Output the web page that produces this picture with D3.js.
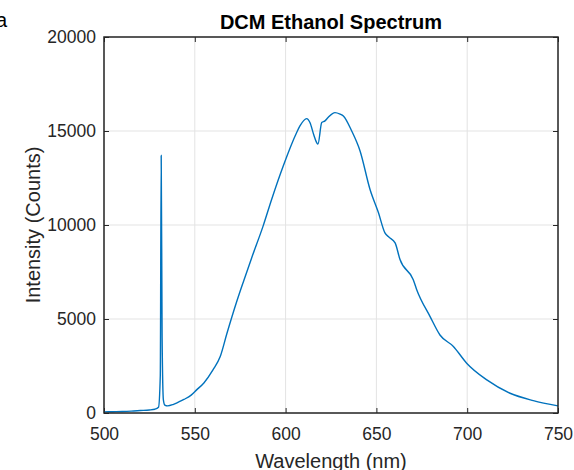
<!DOCTYPE html>
<html>
<head>
<meta charset="utf-8">
<script src="https://cdn.jsdelivr.net/npm/d3@7"></script>
<style>
  body { margin: 0; background: #fff; }
  svg { display: block; font-family: "Liberation Sans", Arial, sans-serif; }
</style>
</head>
<body>
<div id="chart"></div>
<script>
const width = 574;
const height = 470;
const marginTop = 37;
const marginRight = 16;
const marginBottom = 57;
const marginLeft = 104;

// spectrum: wavelength (nm) and intensity (counts)
const wavelength = [500, 505, 510, 515, 520, 525, 528, 530, 531, 531.5, 532, 532.7, 533.5, 535, 538, 541, 544, 548, 551, 555, 560, 564, 567.6, 573, 577, 581.3, 587.6, 592.3, 598.7, 606.1, 607.9, 611.6, 613.4, 615.5, 617.1, 617.8, 619.9, 621.7, 623.4, 627.2, 630, 631.8, 636.4, 641, 646.5, 651.1, 654.7, 657, 660.3, 663, 670.3, 672.2, 679.5, 685, 692.4, 699.7, 710.8, 723.6, 736.4, 750];
const intensity = [60, 70, 80, 100, 130, 160, 200, 300, 2000, 13700, 4000, 700, 420, 380, 450, 580, 720, 950, 1230, 1600, 2290, 3000, 4200, 5900, 7050, 8250, 9940, 11360, 13140, 14920, 15270, 15660, 15450, 14800, 14380, 14300, 15450, 15540, 15720, 15980, 15900, 15800, 15000, 13940, 11890, 10660, 9580, 9350, 9050, 8160, 7090, 6560, 5140, 4150, 3540, 2650, 1760, 1050, 660, 380];

const xTicks = [500, 550, 600, 650, 700, 750];
const yTicks = [0, 5000, 10000, 15000, 20000];

const data = wavelength.map((w, i) => ({w: w, v: intensity[i]}));

const x = d3.scaleLinear()
    .domain([500, 750])
    .range([marginLeft, width - marginRight]);
const y = d3.scaleLinear()
    .domain([0, 20000])
    .range([height - marginBottom, marginTop]);

const svg = d3.select("#chart")
  .append("svg")
    .attr("width", width)
    .attr("height", height);

const axisColor = "#262626";
const tickFont = 17.5;

// grid
svg.append("g")
    .attr("stroke", "#e3e3e3")
    .selectAll("line.gx")
    .data(xTicks)
    .join("line")
      .attr("x1", d => x(d)).attr("x2", d => x(d))
      .attr("y1", y(0)).attr("y2", y(20000));
svg.append("g")
    .attr("stroke", "#e3e3e3")
    .selectAll("line.gy")
    .data(yTicks)
    .join("line")
      .attr("x1", x(500)).attr("x2", x(750))
      .attr("y1", d => y(d)).attr("y2", d => y(d));

// x axis (bottom) and top ticks
svg.append("g")
    .attr("transform", `translate(0,${y(0)})`)
    .call(d3.axisBottom(x).tickValues(xTicks).tickSize(-5).tickPadding(15).tickFormat(d3.format("d")))
    .call(g => g.select(".domain").remove())
    .call(g => g.selectAll("line").attr("stroke", axisColor))
    .call(g => g.selectAll("text").attr("fill", axisColor).attr("font-size", tickFont));
svg.append("g")
    .attr("transform", `translate(0,${y(20000)})`)
    .call(d3.axisTop(x).tickValues(xTicks).tickSize(-5).tickFormat(""))
    .call(g => g.select(".domain").remove())
    .call(g => g.selectAll("line").attr("stroke", axisColor));

// y axis (left) and right ticks
svg.append("g")
    .attr("transform", `translate(${x(500)},0)`)
    .call(d3.axisLeft(y).tickValues(yTicks).tickSize(-5).tickPadding(8).tickFormat(d3.format("d")))
    .call(g => g.select(".domain").remove())
    .call(g => g.selectAll("line").attr("stroke", axisColor))
    .call(g => g.selectAll("text").attr("fill", axisColor).attr("font-size", tickFont));
svg.append("g")
    .attr("transform", `translate(${x(750)},0)`)
    .call(d3.axisRight(y).tickValues(yTicks).tickSize(-5).tickFormat(""))
    .call(g => g.select(".domain").remove())
    .call(g => g.selectAll("line").attr("stroke", axisColor));

// spectrum line
const line = d3.line()
    .x(d => x(d.w))
    .y(d => y(d.v))
    .curve(d3.curveMonotoneX);

svg.append("path")
    .datum(data)
    .attr("fill", "none")
    .attr("stroke", "#0072BD")
    .attr("stroke-width", 1.4)
    .attr("d", line);

// box
svg.append("rect")
    .attr("x", x(500)).attr("y", y(20000))
    .attr("width", x(750) - x(500))
    .attr("height", y(0) - y(20000))
    .attr("fill", "none")
    .attr("stroke", axisColor)
    .attr("stroke-width", 1.5);

// titles
svg.append("text")
    .attr("x", (x(500) + x(750)) / 2)
    .attr("y", 29)
    .attr("text-anchor", "middle")
    .attr("font-weight", "bold")
    .attr("font-size", 20)
    .attr("fill", "#000")
    .text("DCM Ethanol Spectrum");

svg.append("text")
    .attr("x", (x(500) + x(750)) / 2)
    .attr("y", 468)
    .attr("text-anchor", "middle")
    .attr("font-size", 20)
    .attr("fill", axisColor)
    .text("Wavelength (nm)");

svg.append("text")
    .attr("transform", `translate(40,${(y(0) + y(20000)) / 2}) rotate(-90)`)
    .attr("text-anchor", "middle")
    .attr("font-size", 20)
    .attr("fill", axisColor)
    .text("Intensity (Counts)");

// panel letter, cut at the left edge
svg.append("text")
    .attr("x", -4)
    .attr("y", 27)
    .attr("font-size", 20)
    .attr("fill", "#000")
    .text("a");
</script>
</body>
</html>
